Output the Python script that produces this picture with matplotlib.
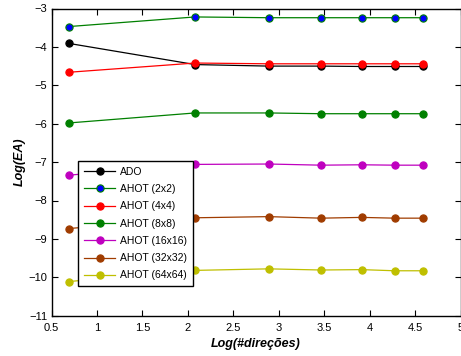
import numpy as np
import matplotlib
matplotlib.use("Agg")
import matplotlib.pyplot as plt

plt.rcParams['font.family'] = ['Liberation Sans', 'DejaVu Sans']

x = [0.693, 2.079, 2.890, 3.466, 3.912, 4.277, 4.585]

labels = ["ADO", "AHOT (2x2)", "AHOT (4x4)", "AHOT (8x8)",
          "AHOT (16x16)", "AHOT (32x32)", "AHOT (64x64)"]
ado = [-3.91, -4.46, -4.50, -4.50, -4.51, -4.51, -4.51]
ahot2 = [-3.47, -3.22, -3.24, -3.24, -3.24, -3.24, -3.24]
ahot4 = [-4.66, -4.42, -4.44, -4.44, -4.44, -4.44, -4.44]
ahot8 = [-5.98, -5.72, -5.72, -5.74, -5.74, -5.74, -5.74]
ahot16 = [-7.34, -7.06, -7.05, -7.08, -7.07, -7.08, -7.08]
ahot32 = [-8.73, -8.45, -8.42, -8.46, -8.44, -8.46, -8.46]
ahot64 = [-10.11, -9.82, -9.78, -9.81, -9.80, -9.83, -9.83]

series = [ado, ahot2, ahot4, ahot8, ahot16, ahot32, ahot64]
line_colors = ['black', '#008000', '#ff0000', '#008000', '#bf00bf', '#a03c00', '#bfbf00']
face_colors = ['black', '#0000ff', '#ff0000', '#008000', '#bf00bf', '#a03c00', '#bfbf00']
edge_colors = ['black', '#008000', '#ff0000', '#008000', '#bf00bf', '#a03c00', '#bfbf00']

fig = plt.figure(figsize=(4.61, 3.56), dpi=100)
ax = fig.add_axes([51.5/461, 40.3/356, 409/461, 307.2/356])

for ys, lab, lc, fc, ec in zip(series, labels, line_colors, face_colors, edge_colors):
    ax.plot(x, ys, '-', color=lc, lw=0.9, marker='o', markersize=5.2,
            markerfacecolor=fc, markeredgecolor=ec, markeredgewidth=0.8, label=lab)

ax.set_xlim(0.5, 5)
ax.set_ylim(-11, -3)
ax.set_xticks(np.arange(0.5, 5.01, 0.5))
ax.set_xticklabels(["0.5", "1", "1.5", "2", "2.5", "3", "3.5", "4", "4.5", "5"])
ax.set_yticks(np.arange(-11, -2.9, 1))
ax.set_yticklabels(["\u221211", "\u221210", "\u22129", "\u22128", "\u22127", "\u22126", "\u22125", "\u22124", "\u22123"])
ax.tick_params(direction='in', top=True, right=True, labelsize=8, length=4, width=0.8)
ax.tick_params(axis='x', pad=5)
ax.tick_params(axis='y', pad=3)
for s in ax.spines.values():
    s.set_linewidth(1.0)

ax.set_xlabel("Log(#direções)", fontsize=9, fontweight='bold', fontstyle='italic', labelpad=3.5)
ax.set_ylabel("Log(EA)", fontsize=9, fontweight='bold', fontstyle='italic', labelpad=2)

leg = ax.legend(loc='upper left', bbox_to_anchor=(0.0655, 0.5036), borderaxespad=0,
                fontsize=7.5, fancybox=False, framealpha=1, edgecolor='black',
                handlelength=3.0, labelspacing=0.7, handletextpad=0.5, borderpad=0.55)
leg.get_frame().set_linewidth(1.0)

fig.savefig("out.png", dpi=100)
